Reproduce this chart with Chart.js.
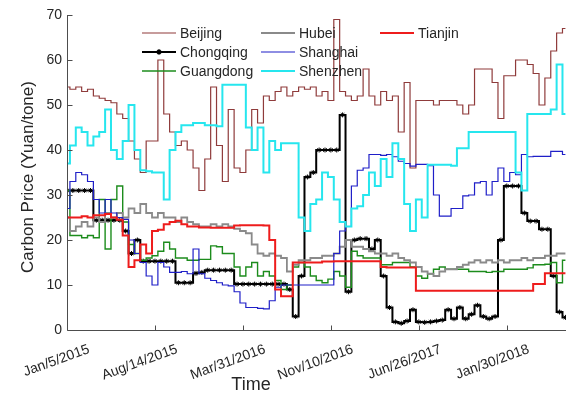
<!DOCTYPE html>
<html>
<head>
<meta charset="utf-8">
<script src="https://cdn.jsdelivr.net/npm/chart.js@4.4.0/dist/chart.umd.min.js"></script>
<style>
  html, body { margin: 0; padding: 0; background: #fff; }
  #wrap { width: 566px; height: 394px; }
</style>
</head>
<body>
<div id="wrap"><canvas id="grafico" width="566" height="394"></canvas></div>
<script>
// trading day index, one sample every 10 trading days from Jan/5/2015
const dias = [0,10,20,30,40,50,60,70,80,90,100,110,120,130,140,150,160,170,180,190,
  200,210,220,230,240,250,260,270,280,290,300,310,320,330,340,350,360,370,380,390,
  400,410,420,430,440,450,460,470,480,490,500,510,520,530,540,550,560,570,580,590,
  600,610,620,630,640,650,660,670,680,690,700,710,720,730,740,750,760,770,780,790,
  800,810,820,830,840,850];

// x axis labels
const tickDias = [0, 150, 300, 450, 600, 750];
const tickDatas = ['Jan/5/2015', 'Aug/14/2015', 'Mar/31/2016', 'Nov/10/2016', 'Jun/26/2017', 'Jan/30/2018'];

// carbon price (Yuan/tone)
const beijing = [54,53.5,54,53,53.5,52,51.5,51,50.5,48, 47,42,38,35,42,42,60,48,44,41,
  42,40,36,31,38,54,41,33,49,36, 35,40,49,46,52,51,53,54,52,53, 54,53.5,54,52,53,51,69,53,52,51,
  52,58,52,50,53,51,52,44,55,36, 51,51,51,50,51,51,51,50,48,50, 58,58,58,55,47,56.5,56.5,60,60,59,
  57,50,56,62,66,67];
const chongqing = [31,31,31,31,31,24.4,24.4,24.4,24.4,24.4, 22,17,20,15.3,15.3,15.3,15.3,15.3,15.3,10.5,
  10.5,10.5,12.6,12.8,13.3,13.3,13.3,13.3,13.3,10.2, 10.2,10.2,10.2,10.2,10.2,10.2,10.2,10.2,9,3,
  12,34,35,40,40,40,40,47.8,8.5,20, 20.3,20.3,18,20,12,5,1.8,1.5,2,4.5,
  1.8,1.7,1.8,2,2.2,4.5,2.5,5,2.5,3.5, 5.5,3,2.5,3,20,32,32,32,26,24.2,
  24.2,22.4,22.4,12,4,2.8];
const guangdong = [31,21,21,20.5,21,20.5,29,18,29,32, 24,19,17,15.5,16,16.5,17.5,19.5,18,16,
  16,15.5,15.5,15.7,15.7,18.7,18.5,17,17,14, 12,14,15,12,13,12,11,9,10,14,
  15,14,12,11,10.5,11.3,13,12,9.5,17.5, 16.5,16,16,16,14.5,14.5,15,15,15,14,
  12,11.5,12.5,13.5,14,13.5,13.5,13.5,13.5,13, 13,13,12.8,13,13,13.5,13.5,13.5,13.5,13.8,
  14.5,14.5,14.6,15,10.5,15.5];
const hubei = [25,22,23,24,23,25,24,26,25,26, 25,27,26,28,26,25,26,25,25,24,
  25,24,23.5,23,23,23.5,23,23.5,23,22.5, 22,21.5,19,17,16.5,17,16.5,16,13,14.5,
  15.5,15.5,16,16,16.5,16.5,17,18.5,20,18.5, 18.5,18,17.5,17,17,16.5,17,16,15.5,15,
  14,13,12.5,12,13,13.5,13.5,14,14.5,15, 15.5,15,15.5,15,15.5,15,15.5,15.5,16,15.5,
  16,16,16.5,16.5,17,17];
const shanghai = [27,33,35,34.5,33,29,26,29,26,25, 24.6,20,17,15,12,10,15,14,12.8,12.8,
  13,12.5,18,12.5,11.5,11,10.5,10,9.8,8.5, 6,5,5,4.8,4.7,6.5,9.5,10,10,10,
  10,10,10,10,10,10,17,22,23,32, 35.5,36,39,39,38.8,39,38.5,37.5,37,36.4,
  36.8,36.8,36.5,30,25.3,25.3,27,27,29.8,30, 32.7,33,30,33,36,33,35,34.5,39,38.5,
  38.6,38.6,38.6,39.7,39.7,39];
const shenzhen = [37,41,45,44,41,43,44,49,40,38, 42,50,40,35.5,35.3,35,35,29,40,44,
  45.5,45.5,46,46,45.5,45.5,45.3,54.5,54.5,54.5, 54.5,45,40,45,35,42,40,41.5,41.5,41.5,
  25,22,28,29,35,34,29,24,23,27, 27.5,30,35,32,38,34,41.5,38,28,22,
  29,25,36.7,36.7,36.7,36.7,36.5,40.4,40.4,44, 44,44,44,44,44,44,44,35,31,48,
  48,48,48,49,59,48];
const tianjin = [25,25,25,25.3,25,25.5,25.5,25.8,25,24.5, 21,14,15.5,19,17,22,22.3,23.5,24,24.3,
  23.5,23,23,22.8,22.8,22.7,22.7,22.7,22.7,23.2, 23.3,23.3,23.3,23.3,23.2,20,9,7.5,7.5,15,
  15,15,15,15,15.2,15.2,15.3,15.3,15.3,15.3, 15.3,15.3,15.3,15.3,14,13.9,13.9,13.9,13.9,13.9,
  8.7,8.7,8.7,8.7,8.7,8.7,8.7,8.7,8.7,8.7, 8.7,8.7,8.7,8.7,8.7,8.7,8.7,8.7,8.7,8.7,
  10.2,10.2,12.6,12.6,12.6,12.6];

const fonte = 'Liberation Sans, Arial, sans-serif';
const corTexto = '#262626';

function serie(label, valores, cor, largura, estilo, raio) {
    return {
        label: label,
        data: dias.map((d, i) => ({ x: d, y: valores[i] })),
        borderColor: cor,
        backgroundColor: cor,
        borderWidth: largura,
        stepped: 'middle',
        pointStyle: estilo,
        pointRadius: raio,
        pointBorderWidth: 1,
        pointBorderColor: cor,
        fill: false
    };
}

const datasets = [
    serie('Beijing', beijing, '#8f3b3b', 1.2, 'line', 0),
    serie('Chongqing', chongqing, '#000000', 2, 'star', 2.5),
    serie('Guangdong', guangdong, '#1c8c1c', 1.4, 'cross', 0),
    serie('Hubei', hubei, '#8a8a8a', 1.8, 'cross', 0),
    serie('Shanghai', shanghai, '#1f1fc8', 1.2, 'circle', 0),
    serie('Shenzhen', shenzhen, '#26e6ee', 2, 'circle', 0),
    serie('Tianjin', tianjin, '#ee1c1c', 2, 'circle', 0)
];
// later series on top, like the original plot
datasets.forEach((d, i) => { d.order = datasets.length - i; });

// axes, inward ticks, titles and legend
const moldura = {
    id: 'moldura',
    afterDraw(chart) {
        const { ctx, chartArea: area, scales: { x, y } } = chart;
        ctx.save();
        ctx.strokeStyle = '#4d4d4d';
        ctx.lineWidth = 1;
        ctx.beginPath();
        const l = Math.round(area.left) + 0.5;
        const b = Math.round(area.bottom) + 0.5;
        ctx.moveTo(l, area.top);
        ctx.lineTo(l, b);
        ctx.lineTo(chart.width, b);
        tickDias.forEach(v => {
            const px = Math.round(x.getPixelForValue(v)) + 0.5;
            ctx.moveTo(px, b);
            ctx.lineTo(px, b - 5);
        });
        for (let v = 10; v <= 70; v += 10) {
            const py = Math.round(y.getPixelForValue(v)) + 0.5;
            ctx.moveTo(l, py);
            ctx.lineTo(l + 5, py);
        }
        ctx.stroke();

        // titles
        ctx.fillStyle = corTexto;
        ctx.font = '18px ' + fonte;
        ctx.textAlign = 'center';
        ctx.textBaseline = 'middle';
        ctx.fillText('Time', 251, 385);
        ctx.font = '17px ' + fonte;
        ctx.save();
        ctx.translate(28, 177);
        ctx.rotate(-Math.PI / 2);
        ctx.fillText('Carbon Price (Yuan/tone)', 0, 0);
        ctx.restore();

        // legend, three columns
        const colunas = [142, 261, 380];
        const linhas = [33, 52, 71];
        ctx.font = '14px ' + fonte;
        ctx.textAlign = 'left';
        chart.data.datasets.forEach((d, i) => {
            const cx = colunas[Math.floor(i / 3)];
            const cy = linhas[i % 3];
            ctx.strokeStyle = d.borderColor;
            ctx.lineWidth = d.borderWidth;
            ctx.beginPath();
            ctx.moveTo(cx, cy);
            ctx.lineTo(cx + 34, cy);
            ctx.stroke();
            if (d.pointRadius > 0) {
                Chart.helpers.drawPoint(ctx, { pointStyle: d.pointStyle, radius: d.pointRadius, borderWidth: 1 }, cx + 17, cy);
            }
            ctx.fillStyle = corTexto;
            ctx.fillText(d.label, cx + 38, cy + 1);
        });
        ctx.restore();
    }
};

const ctx = document.getElementById('grafico');
new Chart(ctx, {
    type: 'line',
    data: { datasets: datasets },
    options: {
        responsive: false,
        animation: false,
        layout: { autoPadding: false, padding: { top: 15, right: 0, left: 0, bottom: 0 } },
        plugins: { legend: { display: false }, tooltip: { enabled: false } },
        scales: {
            x: {
                type: 'linear',
                min: 0,
                max: 851,
                afterFit(s) { s.height = 64; s.paddingLeft = 0; s.paddingRight = 0; },
                afterBuildTicks(s) { s.ticks = tickDias.map(v => ({ value: v })); },
                grid: { display: false, drawTicks: false },
                border: { display: false },
                ticks: {
                    autoSkip: false,
                    minRotation: 20,
                    maxRotation: 20,
                    labelOffset: 22,
                    padding: 11,
                    color: corTexto,
                    font: { family: fonte, size: 14 },
                    callback: v => tickDatas[tickDias.indexOf(v)]
                }
            },
            y: {
                min: 0,
                max: 70,
                afterFit(s) { s.width = 67; },
                grid: { display: false, drawTicks: false },
                border: { display: false },
                ticks: {
                    stepSize: 10,
                    padding: 5,
                    color: corTexto,
                    font: { family: fonte, size: 14 }
                }
            }
        }
    },
    plugins: [moldura]
});
</script>
</body>
</html>
